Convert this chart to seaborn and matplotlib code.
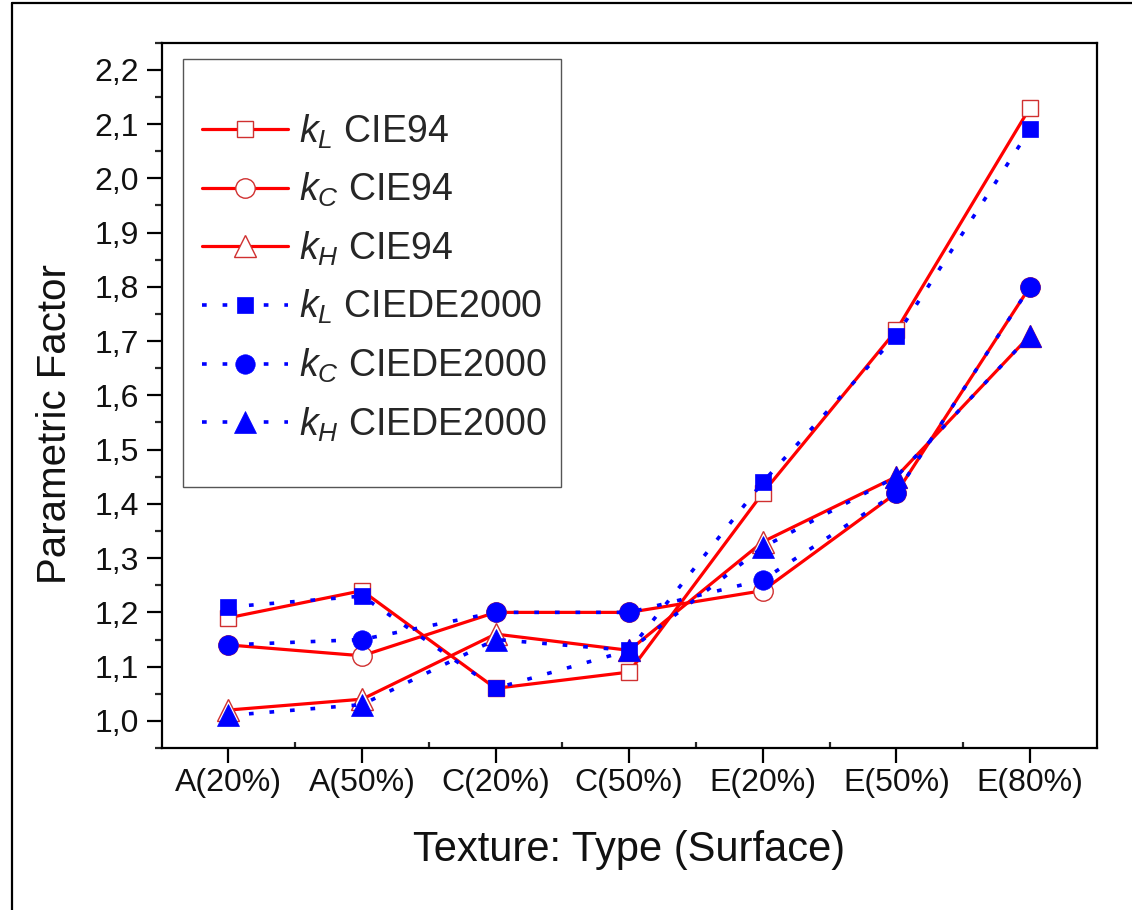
import numpy as np
import pandas as pd
import matplotlib
matplotlib.use("Agg")
import matplotlib.pyplot as plt
from matplotlib.lines import Line2D
from matplotlib.patches import Rectangle
from matplotlib.ticker import FixedLocator, MultipleLocator, FuncFormatter
import seaborn as sns

categories = ["A(20%)", "A(50%)", "C(20%)", "C(50%)", "E(20%)", "E(50%)", "E(80%)"]
kL_CIE94 = [1.19, 1.24, 1.06, 1.09, 1.42, 1.72, 2.13]
kC_CIE94 = [1.14, 1.12, 1.20, 1.20, 1.24, 1.42, 1.80]
kH_CIE94 = [1.02, 1.04, 1.16, 1.13, 1.33, 1.45, 1.71]
kL_CIEDE2000 = [1.21, 1.23, 1.06, 1.13, 1.44, 1.71, 2.09]
kC_CIEDE2000 = [1.14, 1.15, 1.20, 1.20, 1.26, 1.42, 1.80]
kH_CIEDE2000 = [1.01, 1.03, 1.15, 1.13, 1.32, 1.45, 1.71]
yticks = [1.0, 1.1, 1.2, 1.3, 1.4, 1.5, 1.6, 1.7, 1.8, 1.9, 2.0, 2.1, 2.2]

sns.set_style("ticks")
plt.rcParams["font.family"] = ["Liberation Sans", "DejaVu Sans"]
plt.rcParams["mathtext.fontset"] = "custom"
plt.rcParams["mathtext.rm"] = "Liberation Sans"
plt.rcParams["mathtext.it"] = "Liberation Sans:italic"

fig = plt.figure(figsize=(11.32, 9.10), dpi=100)
ax = fig.add_axes([0.1428, 0.178, 0.9688 - 0.1428, 0.9531 - 0.178])

xpos = np.arange(len(categories))

red = "#ff0000"
red_edge = "#d03030"
blue = "#0000ff"

series = [
    (kL_CIE94, "s", 12, r"$k_L$ CIE94", "red"),
    (kC_CIE94, "o", 14, r"$k_C$ CIE94", "red"),
    (kH_CIE94, "^", 16, r"$k_H$ CIE94", "red"),
    (kL_CIEDE2000, "s", 12, r"$k_L$ CIEDE2000", "blue"),
    (kC_CIEDE2000, "o", 14, r"$k_C$ CIEDE2000", "blue"),
    (kH_CIEDE2000, "^", 16, r"$k_H$ CIEDE2000", "blue"),
]

for i, (vals, mk, ms, lab, kind) in enumerate(series):
    df = pd.DataFrame({"x": xpos, "y": vals})
    if kind == "red":
        sns.lineplot(data=df, x="x", y="y", ax=ax, color=red, linewidth=2.3,
                     marker=mk, markersize=ms, markerfacecolor="white",
                     markeredgecolor=red_edge, markeredgewidth=1.0,
                     errorbar=None, label=lab, zorder=3 + i)
    else:
        sns.lineplot(data=df, x="x", y="y", ax=ax, color=blue, linewidth=2.6,
                     linestyle=(0, (1.3, 4.4)),
                     marker=mk, markersize=ms, markerfacecolor=blue,
                     markeredgecolor=blue, markeredgewidth=0.5,
                     errorbar=None, label=lab, zorder=10 + i)

ax.set_xlim(-0.5, 6.5)
ax.set_ylim(0.95, 2.25)
ax.set_xticks(xpos)
ax.set_xticklabels(categories)
ax.xaxis.set_minor_locator(FixedLocator(xpos[:-1] + 0.5))
ax.set_yticks(yticks)
ax.yaxis.set_major_formatter(FuncFormatter(lambda v, p: f"{v:.1f}".replace(".", ",")))
ax.yaxis.set_minor_locator(MultipleLocator(0.05))

for s in ax.spines.values():
    s.set_visible(True)
    s.set_linewidth(1.6)
    s.set_color("black")

ax.tick_params(axis="both", which="major", labelsize=23, width=1.6, length=10.5,
               color="black", labelcolor="#111111")
ax.tick_params(axis="y", which="major", direction="out", pad=6)
ax.tick_params(axis="x", which="major", direction="out", pad=4)
ax.tick_params(axis="y", which="minor", direction="out", length=5, width=1.6)
ax.tick_params(axis="x", which="minor", direction="in", length=4.5, width=1.6)

ax.set_xlabel("Texture: Type (Surface)", fontsize=30, color="#111111")
ax.set_ylabel("Parametric Factor", fontsize=29, color="#111111")
ax.xaxis.set_label_coords(0.5, -0.116)
ax.yaxis.set_label_coords(-0.094, 0.459)

# legend frame
ax.add_patch(Rectangle((0.0225, 0.3705), 0.4267 - 0.0225, 0.9765 - 0.3705,
                       transform=ax.transAxes, fill=False, edgecolor="#555555",
                       linewidth=1.0, zorder=20))
leg = ax.legend(loc="upper left", bbox_to_anchor=(0.0428, 0.901), frameon=False,
                fontsize=27, handlelength=2.3, handletextpad=0.3,
                labelspacing=0.54, borderpad=0, borderaxespad=0)
leg.set_zorder(21)

# figure border (top and left)
fig.add_artist(Line2D([12 / 1132, 12 / 1132], [0, 1 - 3 / 910], transform=fig.transFigure,
                      color="black", linewidth=1.6))
fig.add_artist(Line2D([12 / 1132, 1], [1 - 3 / 910, 1 - 3 / 910], transform=fig.transFigure,
                      color="black", linewidth=1.6))

fig.savefig("out.png", dpi=100)
